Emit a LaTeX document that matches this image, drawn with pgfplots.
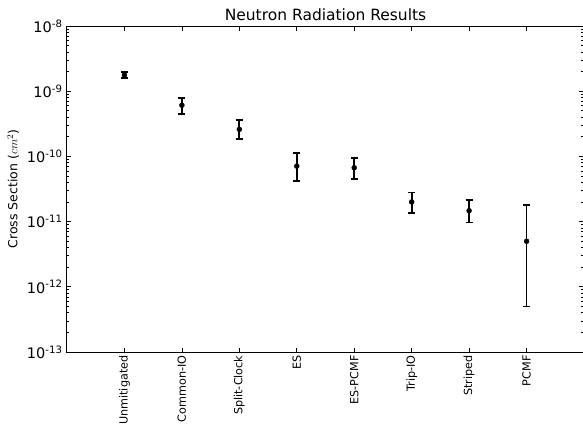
\documentclass[border=0pt]{standalone}
\usepackage{fontspec}
\setmainfont{DejaVu Sans}
\usepackage{pgfplots}
\pgfplotsset{compat=1.18}
\begin{document}
\begin{tikzpicture}[x=1pt,y=1pt]
\path[use as bounding box] (-67,-82) rectangle (516,352);
\begin{axis}[
    at={(0,0)}, anchor=south west,
    scale only axis, width=517pt, height=326pt,
    ymode=log, ymin=1e-13, ymax=1e-8,
    xmin=0, xmax=9,
    xtick={1,...,8},
    xticklabels={Unmitigated,Common-IO,Split-Clock,ES,ES-PCMF,Trip-IO,Striped,PCMF},
    xticklabel style={rotate=90, anchor=east, font=\fontsize{11.2}{13}\selectfont},
    ytick={1e-13,1e-12,1e-11,1e-10,1e-9,1e-8},
    yticklabels={10\textsuperscript{-13},10\textsuperscript{-12},10\textsuperscript{-11},10\textsuperscript{-10},10\textsuperscript{-9},10\textsuperscript{-8}},
    yticklabel style={font=\fontsize{14.5}{16}\selectfont, xshift=-1pt},
    title={Neutron Radiation Results},
    title style={font=\fontsize{15.5}{18}\selectfont, yshift=-4pt},
    ylabel={Cross Section ($cm^2$)},
    ylabel style={font=\fontsize{12.5}{14}\selectfont, yshift=1pt},
    axis line style={line width=1pt},
    tick style={black, line width=0.7pt},
    major tick length=4.5pt, minor tick length=2.5pt,
]
\addplot[only marks, mark=*, mark size=2.5pt, black,
    error bars/.cd, y dir=both, y explicit,
    error bar style={line width=1.8pt},
    error mark options={rotate=90, mark size=3.5pt, line width=1.8pt}]
coordinates {
    (1,1.77e-9) += (0,2.0e-10) -= (0,1.8e-10)
    (2,6.1e-10) += (0,1.8e-10) -= (0,1.6e-10)
    (3,2.6e-10) += (0,1.0e-10) -= (0,0.75e-10)
    (4,7.1e-11) += (0,4.2e-11) -= (0,2.9e-11)
    (5,6.7e-11) += (0,2.7e-11) -= (0,2.15e-11)
    (6,2.0e-11) += (0,0.8e-11) -= (0,0.63e-11)
    (7,1.47e-11) += (0,0.65e-11) -= (0,0.5e-11)
    (8,5.0e-12) += (0,1.3e-11) -= (0,4.5e-12)
};
\end{axis}
\end{tikzpicture}
\end{document}
